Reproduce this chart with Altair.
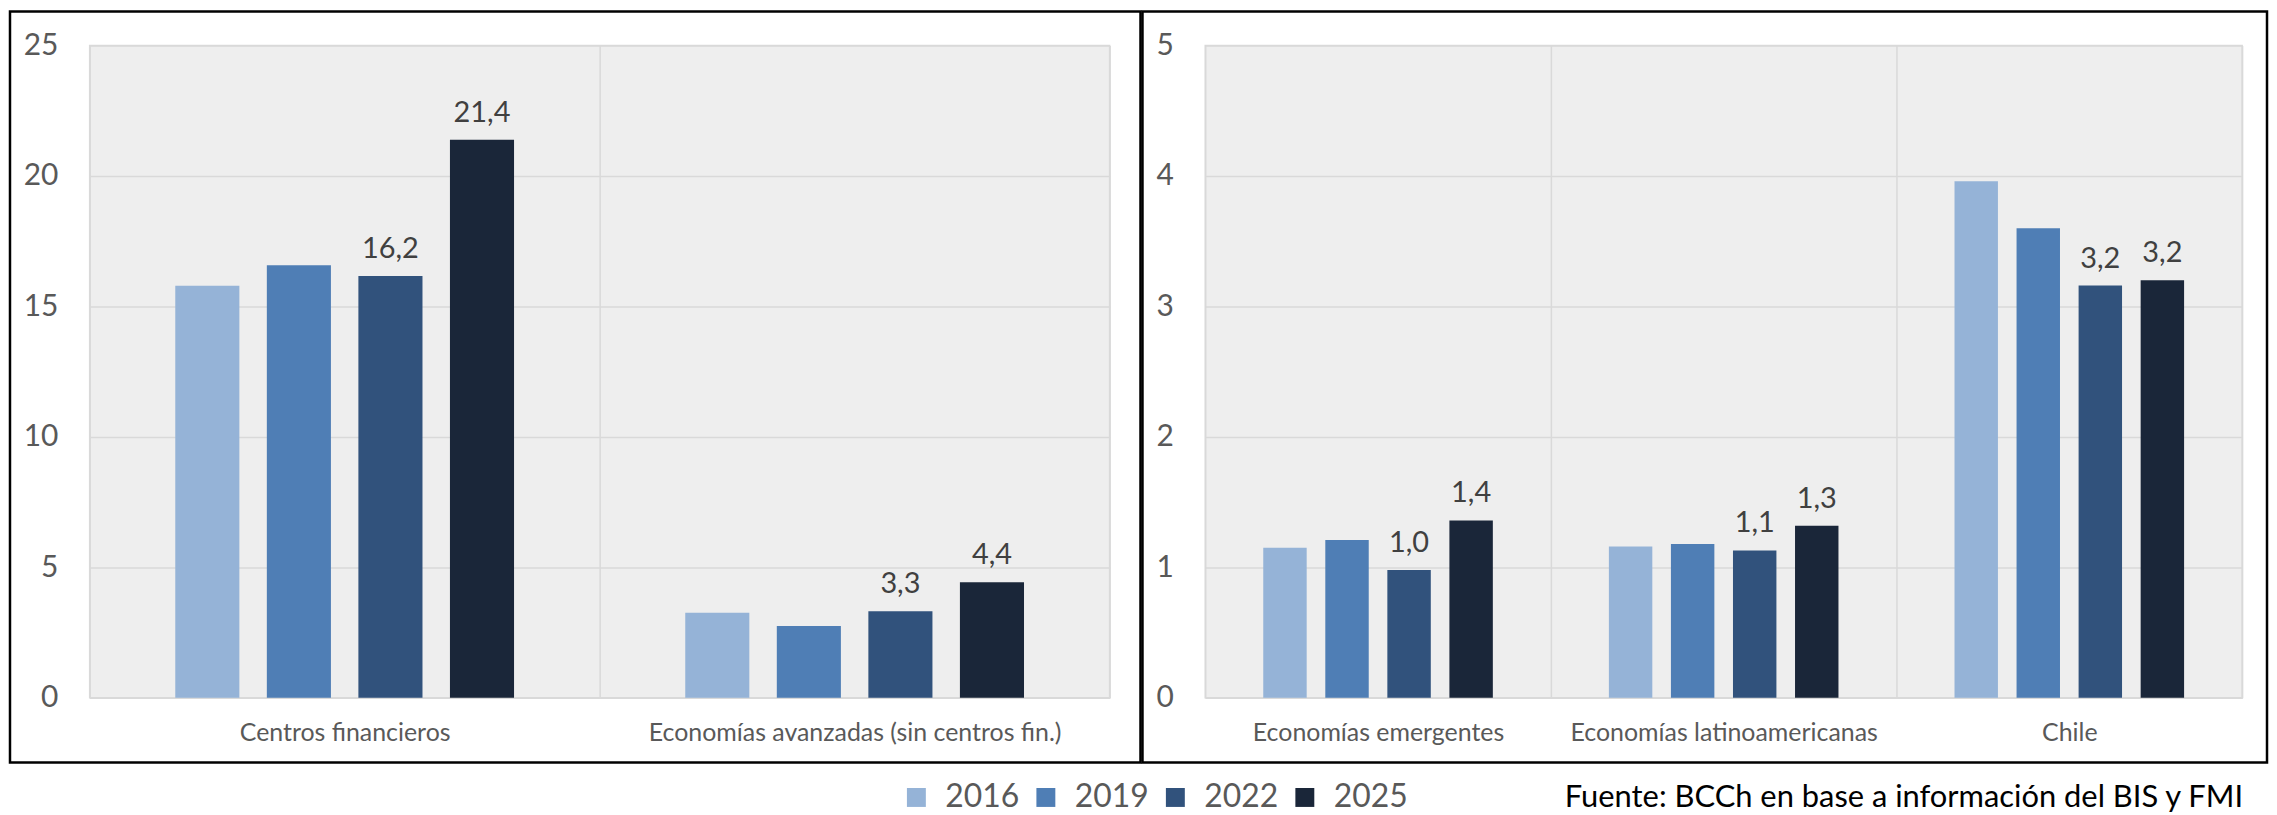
import altair as alt
import pandas as pd

# ---------------- data ----------------
years = ["2016", "2019", "2022", "2025"]
labelled_years = ["2022", "2025"]
colors = ["#95B3D7", "#4F7EB5", "#31527C", "#1A2639"]

left_categories = ["Centros financieros", "Economías avanzadas (sin centros fin.)"]
centros_financieros = [15.79, 16.58, 16.17, 21.39]
economias_avanzadas = [3.26, 2.75, 3.32, 4.43]
left_ticks = [0, 5, 10, 15, 20, 25]

right_categories = ["Economías emergentes", "Economías latinoamericanas", "Chile"]
economias_emergentes = [1.15, 1.21, 0.98, 1.36]
economias_latam = [1.16, 1.18, 1.13, 1.32]
chile = [3.96, 3.60, 3.16, 3.20]
right_ticks = [0, 1, 2, 3, 4, 5]

source_text = "Fuente: BCCh en base a información del BIS y FMI"

# ---------------- tables ----------------
def table(cats, series):
    rows = []
    for c, vals in zip(cats, series):
        for yr, v in zip(years, vals):
            rows.append({"cat": c, "year": yr, "value": v})
    return pd.DataFrame(rows)

left_df = table(left_categories, [centros_financieros, economias_avanzadas])
right_df = table(right_categories, [economias_emergentes, economias_latam, chile])

FONT = "Lato"
TXT = "#595959"
GRID = "#d9d9d9"
PLOT_H = 655


def panel(df, cats, ticks, width, box, extra=None):
    xenc = alt.X(
        "cat:N", sort=cats,
        scale=alt.Scale(paddingInner=0, paddingOuter=0),
        axis=alt.Axis(title=None, labelFontSize=25, labelColor=TXT, labelFont=FONT,
                      labelPadding=23, ticks=False, tickBand="extent", grid=True,
                      gridColor=GRID, gridWidth=1.5, domainColor=GRID, domainWidth=1.5,
                      labelAngle=0, labelLimit=0, labelOverlap=False),
    )
    xoff = alt.XOffset("year:N", sort=years,
                       scale=alt.Scale(paddingInner=0.3, paddingOuter=0.935))
    yenc = alt.Y(
        "value:Q",
        scale=alt.Scale(domain=[ticks[0], ticks[-1]], nice=False),
        axis=alt.Axis(title=None, values=ticks, labelFontSize=30, labelColor=TXT,
                      labelFont=FONT, labelPadding=32, ticks=False, domain=False,
                      gridColor=GRID, gridWidth=1.5),
    )
    color = alt.Color(
        "year:N", sort=years, scale=alt.Scale(domain=years, range=colors),
        legend=alt.Legend(title=None, orient="none", legendX=814, legendY=739,
                          direction="horizontal", columns=4, symbolType="square",
                          symbolSize=361, symbolStrokeWidth=0, labelFontSize=32,
                          labelFont=FONT, labelColor=TXT, labelOffset=13,
                          columnPadding=10),
    )
    base = alt.Chart(df)
    bars = base.mark_bar().encode(x=xenc, xOffset=xoff, y=yenc, color=color)
    labels = (
        base.transform_filter(alt.FieldOneOfPredicate(field="year", oneOf=labelled_years))
        .transform_calculate(lbl="replace(format(datum.value, '.1f'), '.', ',')")
        .mark_text(fontSize=29, font=FONT, color="#404040", baseline="alphabetic", dy=-18)
        .encode(x=xenc, xOffset=xoff, y=yenc, text="lbl:N")
    )
    frame = (
        alt.Chart(pd.DataFrame({"k": [0]}))
        .mark_rect(fill="transparent", stroke="#000000", strokeWidth=2.5, clip=False)
        .encode(x=alt.value(box[0]), x2=alt.value(box[1]),
                y=alt.value(-34), y2=alt.value(720))
    )
    layers = [bars, labels, frame]
    if extra is not None:
        layers.append(extra)
    return alt.layer(*layers).properties(width=width, height=PLOT_H)


source = (
    alt.Chart(pd.DataFrame({"t": [source_text]}))
    .mark_text(align="right", baseline="middle", fontSize=31, font=FONT, color="#000000")
    .encode(text="t:N", x=alt.value(1042), y=alt.value(756))
)

left = panel(left_df, left_categories, left_ticks, 1024, (-80, 1055))
right = panel(right_df, right_categories, right_ticks, 1041, (-63, 1066), extra=source)

chart = (
    alt.hconcat(left, right, spacing=-2)
    .resolve_scale(x="independent", y="independent", xOffset="independent", color="shared")
    .properties(padding=0, background="white")
    .configure_view(stroke=GRID, strokeWidth=1.5, fill="#eeeeee")
)

chart.save("out.html", embed_options={"renderer": "svg", "actions": False})
